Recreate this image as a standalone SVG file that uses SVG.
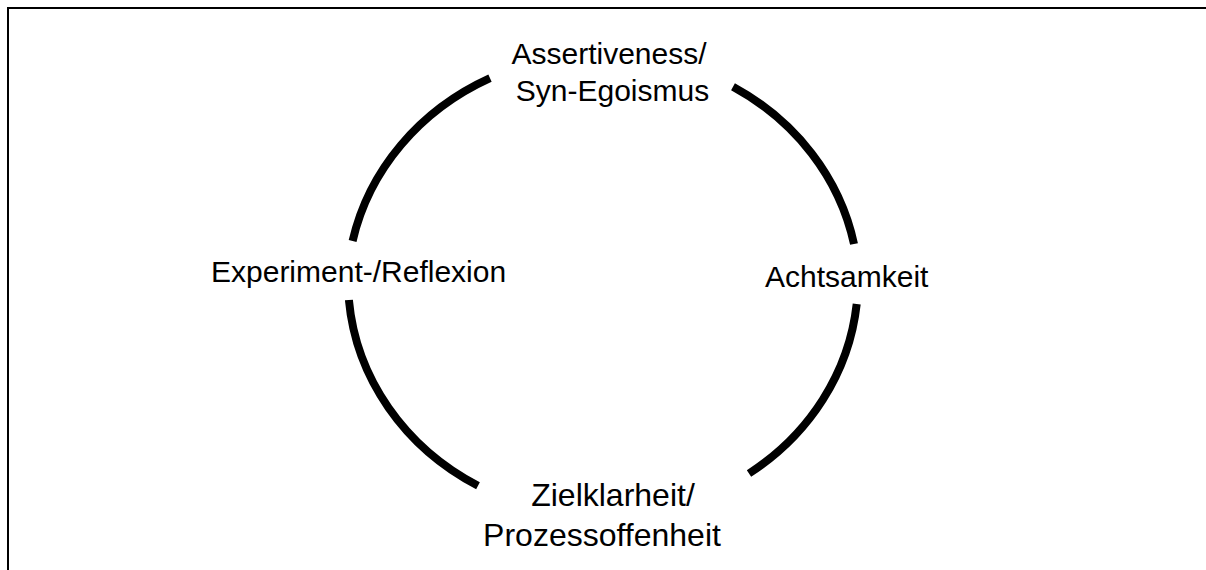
<svg xmlns="http://www.w3.org/2000/svg" width="1206" height="570" viewBox="0 0 1206 570">
  <style>
    .frame { fill: none; stroke: #000; stroke-width: 2; }
    .arc { fill: none; stroke: #000; stroke-width: 8; stroke-linecap: butt; }
    .label { font-family: "Liberation Sans", Arial, sans-serif; font-size: 30px; fill: #000; }
    .big { font-size: 32px; }
    .mid { text-anchor: middle; }
  </style>
  <rect width="1206" height="570" fill="#fff"/>
  <!-- page frame, runs off the right and bottom edges -->
  <rect class="frame" x="8" y="8" width="1400" height="800"/>

  <g id="connectors">
    <path class="arc" d="M352.6,241 A256,236 0 0 1 490,78.2"/>
    <path class="arc" d="M733,86.7 A256,236 0 0 1 854,244"/>
    <path class="arc" d="M856.7,304 A255,236 0 0 1 749,473.5"/>
    <path class="arc" d="M478,485.7 A255,236 0 0 1 348.9,300"/>
  </g>

  <g id="node-assertiveness">
    <text class="label mid" x="609" y="64">Assertiveness/</text>
    <text class="label mid" x="612.5" y="101">Syn-Egoismus</text>
  </g>
  <g id="node-achtsamkeit">
    <text class="label" x="765" y="287">Achtsamkeit</text>
  </g>
  <g id="node-zielklarheit">
    <text class="label big mid" x="613" y="506">Zielklarheit/</text>
    <text class="label big mid" x="602" y="546">Prozessoffenheit</text>
  </g>
  <g id="node-experiment">
    <text class="label" x="211" y="282">Experiment-/Reflexion</text>
  </g>
</svg>
